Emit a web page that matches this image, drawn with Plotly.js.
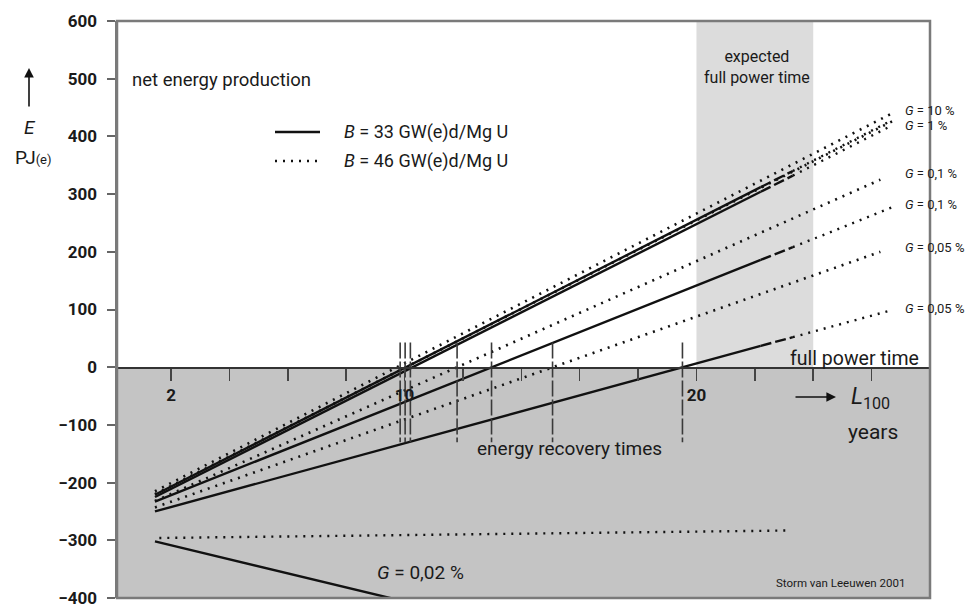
<!DOCTYPE html>
<html>
<head>
<meta charset="utf-8">
<script src="https://cdn.plot.ly/plotly-3.0.1.min.js"></script>
<style>html,body{margin:0;padding:0;background:#fff;}#chart{width:970px;height:604px;}</style>
</head>
<body>
<div id="chart"></div>
<script>
// ---- data (E in PJ(e), L100 in years) ----
// B = 33 GW(e)d/Mg U : solid up to 22.2 y, dashed to 23.3 y, dotted extrapolation to 26.7 y
const yearsB33 = [1.45, 22.2, 23.3, 26.7];
const E_B33_G10  = [-221, 312, 340, 428];
const E_B33_G1   = [-225, 304, 332, 419];
const E_B33_G01  = [-233, 186, 208, 277];
const E_B33_G005 = [-250, 37, 52, 99];
const yearsB33_G002 = [1.45, 10.0];
const E_B33_G002 = [-302, -406];

// B = 46 GW(e)d/Mg U : dotted
const yearsB46_top = [1.45, 26.7];
const E_B46_G10 = [-215, 440];
const E_B46_G1  = [-220, 426];
const yearsB46_mid = [1.45, 26.3];
const E_B46_G01  = [-232, 325];
const E_B46_G005 = [-243, 200];
const yearsB46_G002 = [1.6, 23.2];
const E_B46_G002 = [-296, -283];

// energy recovery times (zero crossings)
const recoveryYears = [9.85, 10.02, 10.2, 11.8, 12.98, 15.07, 19.52];
const recoveryMarkTop = 43;
const recoveryMarkBottom = -130;

// axes
const yTicks = [-400, -300, -200, -100, 0, 100, 200, 300, 400, 500, 600];
const xTickVals = [2, 4, 6, 8, 10, 12, 14, 16, 18, 20, 22, 24, 26, 28];
const xTickText = ["2", "", "", "", "10", "", "", "", "", "20", "", "", "", ""];
const expectedBand = [20, 24];

// right-hand labels
const gLabels = ["<i>G</i> = 10 %", "<i>G</i> = 1 %", "<i>G</i> = 0,1 %", "<i>G</i> = 0,1 %", "<i>G</i> = 0,05 %", "<i>G</i> = 0,05 %"];

// ---- build traces ----
const DOT = "2px,6px";
const DASH = "11px,4px";
const traces = [];
function seg(xs, ys, dash, width) {
  traces.push({x: xs, y: ys, mode: "lines", type: "scatter",
    line: {color: "#111", width: width || 2.4, dash: dash || "solid"}, hoverinfo: "skip"});
}
[E_B33_G10, E_B33_G1, E_B33_G01, E_B33_G005].forEach(v => {
  seg(yearsB33.slice(0, 2), v.slice(0, 2), "solid", 2.4);
  seg(yearsB33.slice(1, 3), v.slice(1, 3), DASH, 2.4);
  seg(yearsB33.slice(2, 4), v.slice(2, 4), DOT, 2.4);
});
seg(yearsB33_G002, E_B33_G002, "solid", 2.4);
seg(yearsB46_top, E_B46_G10, DOT, 2.6);
seg(yearsB46_top, E_B46_G1, DOT, 2.6);
seg(yearsB46_mid, E_B46_G01, DOT, 2.6);
seg(yearsB46_mid, E_B46_G005, DOT, 2.6);
seg(yearsB46_G002, E_B46_G002, DOT, 2.4);

// recovery markers
const mx = [], my = [];
recoveryYears.forEach(t => { mx.push(t, t, null); my.push(recoveryMarkTop, recoveryMarkBottom, null); });
traces.push({x: mx, y: my, mode: "lines", type: "scatter",
  line: {color: "#3a3a3a", width: 1.6, dash: "16px,3px"}, hoverinfo: "skip"});

// ---- layout helpers (pixel -> paper) ----
const L = 117, R = 930, T = 21, B = 598;
const px = v => (v - L) / (R - L);
const py = v => (B - v) / (B - T);
const FONT = "Roboto, 'Liberation Sans', sans-serif";
const TXT = "#1a1a1a";

const ann = [];
function txt(text, x, y, size, xa, extra) {
  ann.push(Object.assign({text: text, xref: "paper", yref: "paper", x: px(x), y: py(y),
    xanchor: xa || "left", yanchor: "middle", showarrow: false,
    font: {family: FONT, size: size, color: TXT}}, extra || {}));
}
txt("net energy production", 130, 80, 18.5);
txt("<i>B</i> = 33 GW(e)d/Mg U", 342, 132, 18);
txt("<i>B</i> = 46 GW(e)d/Mg U", 342, 161, 18);
txt("expected<br>full power time", 757, 67, 16, "center");
const gY = [110, 125, 173, 204, 247, 308];
gLabels.forEach((g, i) => txt(g, 903, gY[i], 13));
txt("full power time", 921, 358, 19.5, "right");
txt("energy recovery times", 569, 448, 19, "center");
txt("<i>L</i><sub>100</sub>", 849, 398, 23);
txt("years", 873, 432, 21, "center");
txt("<i>E</i>", 30, 127, 19, "center");
txt("PJ<span style='font-size:13px'>(e)</span>", 33, 157, 19, "center");
txt("Storm van Leeuwen 2001", 907, 583, 11.5, "right");
txt("<i>G</i> = 0,02 %", 375, 572, 19);
// arrows
ann.push({xref: "paper", yref: "paper", x: px(836), y: py(397), ax: -42, ay: 0, text: "",
  showarrow: true, arrowhead: 2, arrowsize: 1.2, arrowwidth: 1.6, arrowcolor: "#111"});
ann.push({xref: "paper", yref: "paper", x: px(29), y: py(68), ax: 0, ay: 40, text: "",
  showarrow: true, arrowhead: 2, arrowsize: 1.2, arrowwidth: 1.6, arrowcolor: "#111"});

const shapes = [
  {type: "rect", xref: "paper", yref: "y", x0: 0, x1: 1, y0: -400, y1: 0,
   fillcolor: "#c4c4c4", line: {width: 0}, layer: "below"},
  {type: "rect", xref: "x", yref: "y", x0: expectedBand[0], x1: expectedBand[1], y0: 0, y1: 600,
   fillcolor: "#dcdcdc", line: {width: 0}, layer: "below"},
  {type: "line", xref: "paper", yref: "paper", x0: px(275), x1: px(320), y0: py(132), y1: py(132),
   line: {color: "#111", width: 2.4}},
  {type: "line", xref: "paper", yref: "paper", x0: px(275), x1: px(320), y0: py(161), y1: py(161),
   line: {color: "#111", width: 2.4, dash: DOT}},
  {type: "rect", xref: "paper", yref: "paper", x0: 0, x1: 1, y0: 0, y1: 1,
   line: {color: "#7a7a7a", width: 2.5}, layer: "above"}
];

const layout = {
  width: 970, height: 604,
  margin: {l: L, r: 970 - R, t: T, b: 604 - B, pad: 0},
  paper_bgcolor: "#fff", plot_bgcolor: "#fff",
  showlegend: false, hovermode: false,
  xaxis: {range: [0.15, 28], anchor: "free", position: 0.4,
    tickmode: "array", tickvals: xTickVals, ticktext: xTickText,
    ticks: "outside", ticklen: 12, tickwidth: 1.5, tickcolor: "#444",
    showline: true, linecolor: "#333", linewidth: 1.5, showgrid: false, zeroline: false,
    tickfont: {family: FONT, size: 17, color: TXT, weight: 700}},
  yaxis: {range: [-400, 600], tickmode: "array", tickvals: yTicks,
    ticks: "outside", ticklen: 8, tickwidth: 2, tickcolor: "#666",
    showline: true, linecolor: "#7a7a7a", linewidth: 2.5, showgrid: false, zeroline: false,
    ticklabelstandoff: 6, ticklabeloverflow: "allow",
    tickfont: {family: FONT, size: 17, color: TXT, weight: 700}},
  shapes: shapes,
  annotations: ann
};

Plotly.newPlot("chart", traces, layout, {staticPlot: true, displayModeBar: false});
</script>
</body>
</html>
